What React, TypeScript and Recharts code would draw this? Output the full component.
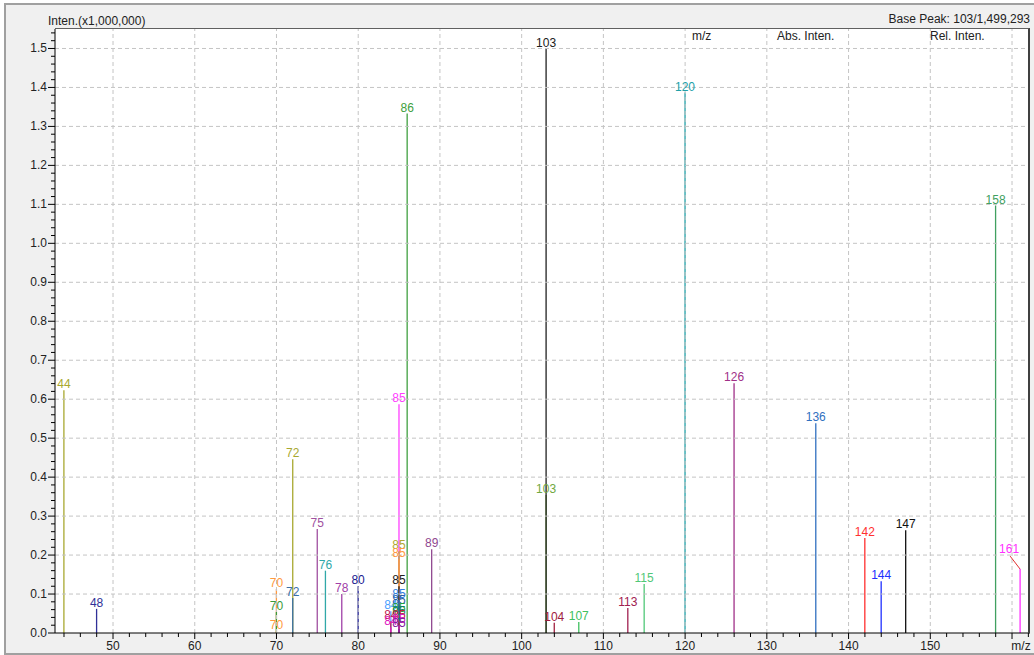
import React from 'react';
import { BarChart, Bar, XAxis, YAxis, CartesianGrid, ReferenceLine, LabelList, Cell } from 'recharts';

// peak list, m/z vs absolute intensity (x1,000,000)
const MZ = [
  44, 48, 70, 70, 70, 72, 72, 75, 76, 78, 80,
  84, 84, 84, 85, 85, 85, 85, 85, 85, 85, 85, 85, 85, 85,
  86, 89, 103, 103, 104, 107, 113, 115, 120, 126, 136, 142, 144, 147, 158, 161,
];
const INTEN = [
  0.623, 0.062, 0.113, 0.054, 0.004, 0.446, 0.09, 0.267, 0.16, 0.1, 0.12,
  0.056, 0.03, 0.015, 0.587, 0.21, 0.19, 0.12, 0.085, 0.07, 0.05, 0.04, 0.03, 0.02, 0.01,
  1.333, 0.215, 0.354, 1.499, 0.026, 0.028, 0.064, 0.126, 1.387, 0.641, 0.538, 0.244, 0.133, 0.264, 1.097, 0.164,
];
const PEAK_COLORS = [
  '#a8a830', '#303098', '#ff9a40', '#3a9a3a', '#ff9a40', '#a8a830', '#3a70a8', '#a050a0', '#30a8a8', '#a040a8', '#202090',
  '#4aa0ff', '#c02050', '#e020c0', '#ff40ff', '#b0a830', '#ff9a40', '#202020', '#3080e0', '#2a60a0', '#20a040', '#108060', '#c02040', '#d020c0', '#8020a0',
  '#40a040', '#904890', '#70a840', '#202020', '#a02040', '#40c060', '#a02050', '#50c878', '#20a0a8', '#a03088', '#3070c0', '#ff3030', '#2030ff', '#101010', '#40a060', '#ff30ff',
];

const X_MAJOR = [50, 60, 70, 80, 90, 100, 110, 120, 130, 140, 150, 160];
const Y_MAJOR = [0.1, 0.2, 0.3, 0.4, 0.5, 0.6, 0.7, 0.8, 0.9, 1.0, 1.1, 1.2, 1.3, 1.4, 1.5];
const X_TICKS: number[] = [];
for (let v = 44; v <= 162; v += 2) X_TICKS.push(v);
const Y_TICKS: number[] = [];
for (let i = 0; i <= 77; i++) Y_TICKS.push(Math.round(i * 2) / 100);

const peaks = MZ.map((mz, i) => ({ mz, inten: INTEN[i] }));

const W = 1034;
const H = 655;
const MARGIN = { top: 29, right: 4, left: 8, bottom: 0 };
const PLOT_RIGHT = W - MARGIN.right;
const FONT = '"Liberation Sans", Arial, sans-serif';

const YTick = (p: any) => {
  const v = p.payload.value;
  const major = Math.round(v * 100) % 10 === 0;
  return (
    <g>
      <line x1={p.x} x2={p.x - (major ? 7 : 4)} y1={p.y} y2={p.y} stroke="#000" />
      {major && (
        <text x={p.x - 8} y={p.y} dy={4} textAnchor="end" fontSize={12} fill="#222" fontFamily={FONT}>
          {v.toFixed(1)}
        </text>
      )}
    </g>
  );
};

const XTick = (p: any) => {
  const v = p.payload.value;
  const major = v % 10 === 0;
  return (
    <g>
      <line x1={p.x} x2={p.x} y1={p.y} y2={p.y + (major ? 6 : 4)} stroke="#000" />
      {major && (
        <text x={v === 160 ? p.x + 9 : p.x} y={p.y + 17} textAnchor="middle" fontSize={12} fill="#222" fontFamily={FONT}>
          {v === 160 ? 'm/z' : v}
        </text>
      )}
    </g>
  );
};

const PeakShape = (p: any) => {
  const cx = p.x + p.width / 2;
  return <line x1={cx} x2={cx} y1={p.y} y2={p.y + p.height} stroke={p.fill} strokeWidth={1.3} />;
};

const PeakLabel = (p: any) => {
  const color = PEAK_COLORS[p.index] || '#000';
  const cx = p.x + p.width / 2;
  const top = p.y;
  if (cx > PLOT_RIGHT - 14) {
    // too close to the right border: pull the label inward with a leader line
    return (
      <g>
        <line x1={cx} y1={top} x2={cx - 10} y2={top - 13} stroke="#e03030" />
        <text x={cx - 11} y={top - 16} textAnchor="middle" fontSize={12} fill={color} fontFamily={FONT}>
          {p.value}
        </text>
      </g>
    );
  }
  return (
    <text x={cx} y={top - 2} textAnchor="middle" fontSize={12} fill={color} fontFamily={FONT}>
      {p.value}
    </text>
  );
};

const App: React.FC = () => {
  return (
    <div style={{ position: 'absolute', left: 0, top: 0, width: W, height: H, background: '#fff', fontFamily: FONT, overflow: 'hidden' }}>
      <div
        style={{
          position: 'absolute', left: 4, top: 3, width: W, height: 648, background: '#f0f0f0',
          borderTop: '2px solid #a0a0a0', borderLeft: '2px solid #a0a0a0', borderBottom: '2px solid #a0a0a0',
        }}
      />
      <div style={{ position: 'absolute', left: 0, top: 0 }}>
        <BarChart width={W} height={H} data={peaks} margin={MARGIN} barSize={2}>
          <CartesianGrid horizontal={false} vertical={false} fill="#fff" />
          {X_MAJOR.map(v => (
            <ReferenceLine key={'x' + v} x={v} stroke="#c4c4c4" strokeDasharray="4 3" />
          ))}
          {Y_MAJOR.map(v => (
            <ReferenceLine key={'y' + v} y={v} stroke="#c4c4c4" strokeDasharray="4 3" />
          ))}
          <XAxis
            dataKey="mz" type="number" domain={[42.9, 162.2]} allowDataOverflow
            ticks={X_TICKS} interval={0} tickSize={0} tickMargin={0} height={22}
            tick={<XTick />} axisLine={{ stroke: '#000' }} tickLine={false}
          />
          <YAxis
            type="number" domain={[0, 1.55]} allowDataOverflow
            ticks={Y_TICKS} interval={0} tickSize={0} tickMargin={0} width={47}
            tick={<YTick />} axisLine={{ stroke: '#000' }} tickLine={false}
          />
          <Bar dataKey="inten" isAnimationActive={false} shape={PeakShape}>
            {peaks.map((_, i) => (
              <Cell key={i} fill={PEAK_COLORS[i]} />
            ))}
            <LabelList dataKey="mz" content={PeakLabel} />
          </Bar>
        </BarChart>
      </div>
      <div
        style={{
          position: 'absolute', left: 55, top: 28, width: 975, height: 605, boxSizing: 'border-box',
          borderTop: '1px solid #606060', borderRight: '2px solid #404040', pointerEvents: 'none',
        }}
      />
      <div style={{ position: 'absolute', left: 48, top: 14, fontSize: 12, color: '#222', whiteSpace: 'nowrap' }}>
        Inten.(x1,000,000)
      </div>
      <div style={{ position: 'absolute', right: 4, top: 12, fontSize: 12, color: '#222', whiteSpace: 'nowrap' }}>
        Base Peak: 103/1,499,293
      </div>
      <div style={{ position: 'absolute', left: 692, top: 29, fontSize: 12, color: '#222' }}>m/z</div>
      <div style={{ position: 'absolute', left: 777, top: 29, fontSize: 12, color: '#222' }}>Abs. Inten.</div>
      <div style={{ position: 'absolute', left: 930, top: 29, fontSize: 12, color: '#222' }}>Rel. Inten.</div>
    </div>
  );
};

export default App;
